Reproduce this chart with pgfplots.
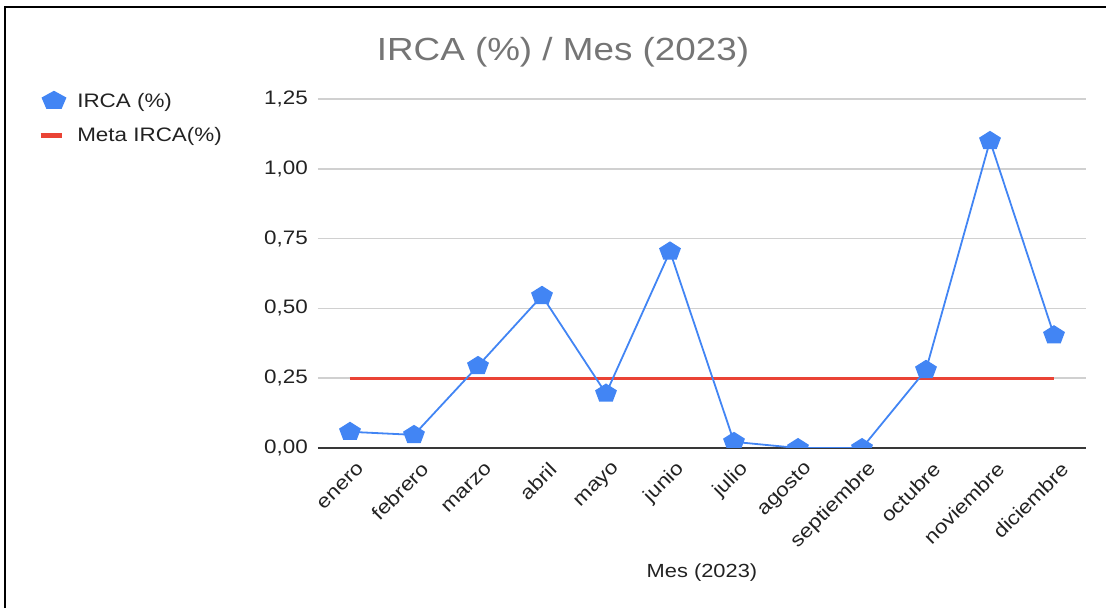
\documentclass[border=0pt]{standalone}
\usepackage{pgfplots}
\pgfplotsset{compat=1.18}
\usepackage{fontspec}
\setmainfont{Liberation Sans}[FakeStretch=1.15]
\definecolor{gblue}{HTML}{4285F4}
\definecolor{gred}{HTML}{EA4335}
\definecolor{gtitle}{HTML}{757575}
\definecolor{gtext}{HTML}{222222}
\definecolor{ggrid}{HTML}{D0D0D0}
\begin{document}
\begin{tikzpicture}[x=1pt,y=1pt]
\useasboundingbox (0,0) rectangle (1106,608);
\draw[black, line width=1.5pt] (5,0) -- (5,601) -- (1106,601);
\node[text=gtitle, font=\fontsize{32}{36}\selectfont, anchor=center] at (563,556) {IRCA (\%) / Mes (2023)};
\begin{axis}[
  at={(318pt,160pt)}, anchor=south west,
  scale only axis, width=768pt, height=349pt,
  xmin=-0.5, xmax=11.5, ymin=0, ymax=1.25,
  axis y line*=left, axis x line*=bottom,
  y axis line style={draw=none},
  x axis line style={draw=gtext!90, line width=1.8pt, -},
  xtick={0,...,11},
  xticklabels={enero,febrero,marzo,abril,mayo,junio,julio,agosto,septiembre,octubre,noviembre,diciembre},
  ytick={0,0.25,0.5,0.75,1,1.25},
  ymajorgrids, major grid style={draw=ggrid, line width=1.5pt},
  major tick length=0pt,
  tick style={draw=none},
  yticklabel style={font=\fontsize{19.5}{21}\selectfont, text=gtext, anchor=east, inner sep=0pt, xshift=-10pt,
    /pgf/number format/use comma, /pgf/number format/fixed, /pgf/number format/fixed zerofill,
    /pgf/number format/precision=2, /pgf/number format/assume math mode=true},
  xticklabel style={font=\fontsize{19.5}{21}\selectfont, text=gtext, inner sep=0pt, xshift=11pt, yshift=-18pt, rotate=45, anchor=east},
  xlabel={Mes (2023)},
  xlabel style={font=\fontsize{19}{21}\selectfont, text=gtext, at={(rel axis cs:0.5,0)}, anchor=center, yshift=-125pt},
  clip marker paths=true,
  legend style={at={(axis description cs:-0.3685,1.027)}, anchor=north west, draw=none, fill=none,
    font=\fontsize{19.5}{21}\selectfont, text=gtext, row sep=19pt,
    nodes={inner sep=0pt, anchor=west}},
  legend cell align=left,
  legend image code/.code={},
]
\addplot[gred, line width=3pt, forget plot] coordinates {(0,0.25) (11,0.25)};
\addplot[gblue, line width=1.8pt, mark=pentagon*, mark size=9pt, mark options={xscale=1.15, solid, fill=gblue, draw=gblue},
  legend image code/.code={\draw[gblue, fill=gblue, xscale=1.15] plot[mark=pentagon*, mark size=9pt] coordinates {(0.45cm,0pt)};}]
 coordinates {(0,0.058) (1,0.047) (2,0.294) (3,0.545) (4,0.195) (5,0.704) (6,0.022) (7,0) (8,0) (9,0.28) (10,1.10) (11,0.404)};
\addlegendentry{\hspace{12pt}IRCA (\%)}
\addlegendimage{gred, line width=5pt, legend image code/.code={\draw[gred, line width=5pt] (0.05cm,0pt) -- (0.8cm,0pt);}}
\addlegendentry{\hspace{12pt}Meta IRCA(\%)}
\end{axis}
\end{tikzpicture}
\end{document}
